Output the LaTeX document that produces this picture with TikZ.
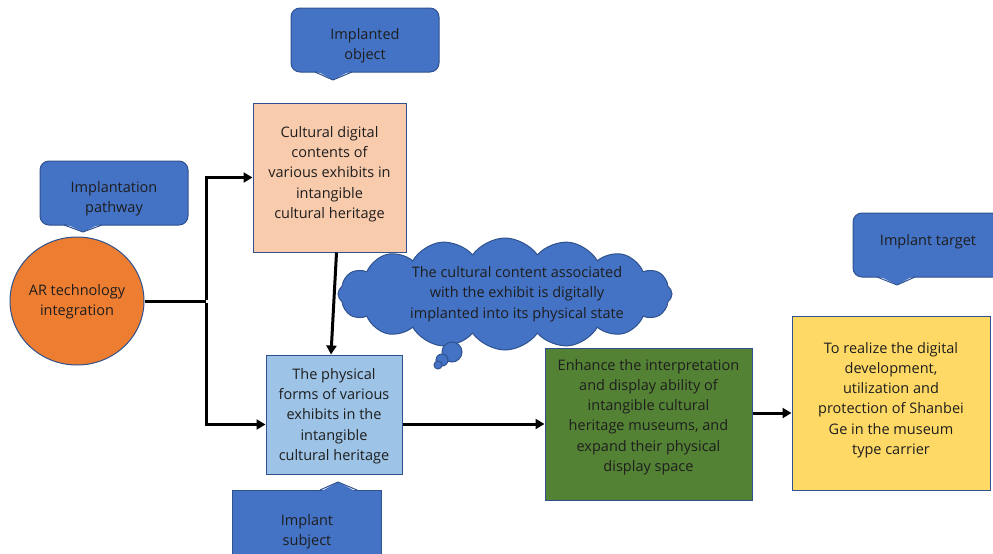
\documentclass[tikz,border=0pt]{standalone}
\usepackage{fontspec}
\setmainfont{Open Sans}
\usetikzlibrary{shapes.geometric,shapes.symbols,arrows.meta,calc}
\definecolor{calloutblue}{HTML}{4472C4}
\definecolor{edgeblue}{HTML}{2F528F}
\definecolor{peach}{HTML}{F8CBAD}
\definecolor{skyblue}{HTML}{9DC3E6}
\definecolor{leafgreen}{HTML}{548235}
\definecolor{sun}{HTML}{FFD966}
\definecolor{orange}{HTML}{ED7D31}
\definecolor{ink}{HTML}{1E1E1E}
\tikzset{
  txt/.style={text=ink, align=center, font=\fontsize{14.5}{20.3}\selectfont, inner sep=0pt},
  box/.style={draw=edgeblue, line width=1pt, inner sep=0pt},
  calloutbody/.style={draw=edgeblue, fill=calloutblue, line width=1pt, rounded corners=9pt, inner sep=0pt},
  link/.style={draw=black, line width=3pt},
  arrow/.style={link, -{Triangle[length=9pt,width=10pt]}},
}
\begin{document}
\begin{tikzpicture}[x=1pt,y=-1pt]
\useasboundingbox (0,0) rectangle (993,554);

% callout: implanted object (pointer down)
\node[calloutbody, minimum width=148pt, minimum height=64pt] (objc) at (365,40) {};
\fill[calloutblue] (315,70) -- (333,80) -- (352,70) -- cycle;
\draw[edgeblue, line width=1pt, line join=round] (315,72) -- (333,80) -- (352,72);
\node[txt] (objt) at (365,46) {Implanted\\object};

% callout: implantation pathway (pointer down)
\node[calloutbody, minimum width=148pt, minimum height=64pt] (pathc) at (114,193) {};
\fill[calloutblue] (64,223) -- (83,232) -- (102,223) -- cycle;
\draw[edgeblue, line width=1pt, line join=round] (64,225) -- (83,232) -- (102,225);
\node[txt] (patht) at (114,199) {Implantation\\pathway};

% callout: implant target (pointer down)
\node[calloutbody, minimum width=150pt, minimum height=64pt] (targc) at (928,245) {};
\fill[calloutblue] (877,275) -- (897,285) -- (915,275) -- cycle;
\draw[edgeblue, line width=1pt, line join=round] (877,277) -- (897,285) -- (915,277);
\node[txt] (targt) at (928,242) {Implant target};

% callout: implant subject (pointer up)
\node[calloutbody, rounded corners=0pt, minimum width=149pt, minimum height=70pt] (subjc) at (307,525) {};
\fill[calloutblue] (320,492) -- (338,482) -- (357,492) -- cycle;
\draw[edgeblue, line width=1pt, line join=round] (320,490) -- (338,482) -- (357,490);
\node[txt] (subjt) at (307,532) {Implant\\subject};

% AR technology integration
\node[ellipse, draw=edgeblue, fill=orange, line width=1pt, minimum width=134pt, minimum height=128pt] (ar) at (77,301) {};
\node[txt] (art) at (77,302) {AR technology\\integration};

% cultural digital contents
\node[box, fill=peach, minimum width=153pt, minimum height=149pt] (cult) at (329.5,177.5) {};
\node[txt] (cultt) at (329.5,174) {Cultural digital\\contents of\\various exhibits in\\intangible\\cultural heritage};

% physical forms
\node[box, fill=skyblue, minimum width=136pt, minimum height=119pt] (phys) at (334,414.5) {};
\node[txt] (physt) at (334,416) {The physical\\forms of various\\exhibits in the\\intangible\\cultural heritage};

% enhancement box
\node[box, fill=leafgreen, minimum width=207pt, minimum height=152pt] (enh) at (648.5,424) {};
\node[txt] (enht) at (648.5,417) {Enhance the interpretation\\and display ability of\\intangible cultural\\heritage museums, and\\expand their physical\\display space};

% target box
\node[box, fill=sun, minimum width=198pt, minimum height=174pt] (goal) at (891,403) {};
\node[txt] (goalt) at (891,400) {To realize the digital\\development,\\utilization and\\protection of Shanbei\\Ge in the museum\\type carrier};

% thought cloud
\node[cloud, cloud puffs=16, cloud puff arc=110, aspect=3, draw=edgeblue, fill=calloutblue, line width=1pt, minimum width=334pt, minimum height=112pt, inner sep=0pt] (cloud) at (505,294) {};
\draw[edgeblue, fill=calloutblue, line width=1pt] (452,352) circle (10pt);
\draw[edgeblue, fill=calloutblue, line width=1pt] (442,360) circle (6pt);
\draw[edgeblue, fill=calloutblue, line width=1pt] (438,365) circle (4pt);
\node[txt] (cloudt) at (517,294) {The cultural content associated\\with the exhibit is digitally\\implanted into its physical state};

% connectors
\coordinate (split) at (206,301);
\draw[link] (ar.east) -- (split);
\draw[arrow] ([yshift=1.5pt]split) |- (cult.west);
\draw[arrow] ([yshift=-1.5pt]split) |- ([yshift=-10pt]phys.west);
\draw[arrow] ([xshift=7pt]cult.south) -- ([xshift=-3pt]phys.north);
\draw[arrow] (phys.east |- enh.west) -- (enh.west);
\draw[arrow] ([yshift=11pt]enh.east) -- ([yshift=-10pt]goal.west);
\end{tikzpicture}
\end{document}
